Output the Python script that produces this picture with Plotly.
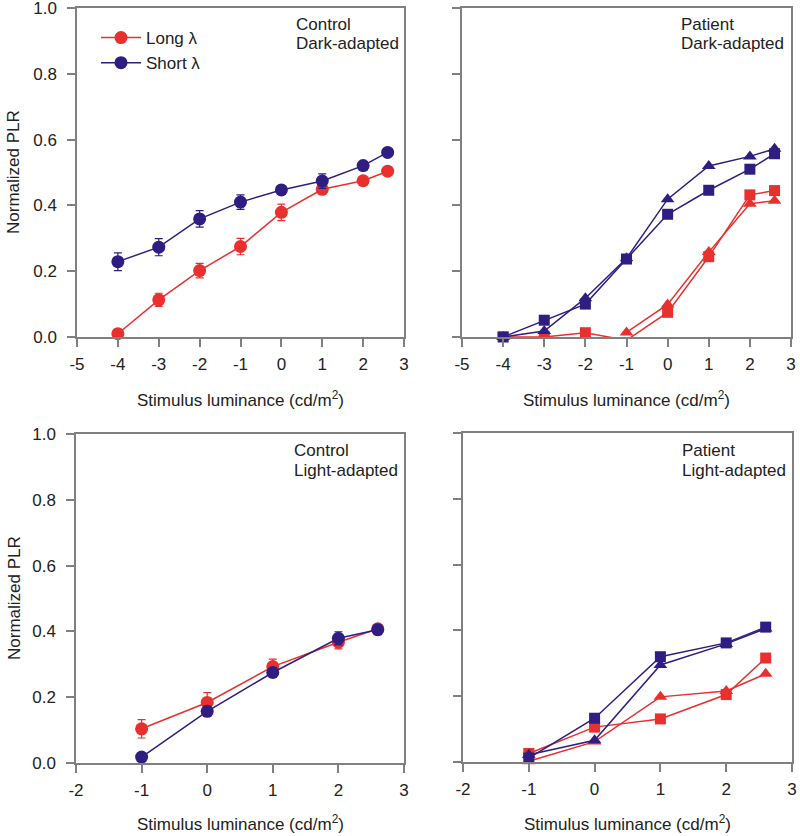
import plotly.graph_objects as go

# ---------------- data ----------------
x_dark = [-4, -3, -2, -1, 0, 1, 2, 2.6]
x_light = [-1, 0, 1, 2, 2.6]

# Control, dark-adapted (mean +/- error)
ctrl_dark_long = [0.010, 0.113, 0.202, 0.275, 0.379, 0.449, 0.475, 0.504]
ctrl_dark_long_err = [0.006, 0.020, 0.022, 0.025, 0.025, 0.015, 0.010, 0.010]
ctrl_dark_short = [0.229, 0.273, 0.359, 0.410, 0.447, 0.474, 0.521, 0.561]
ctrl_dark_short_err = [0.027, 0.026, 0.025, 0.022, 0.012, 0.022, 0.010, 0.010]

# Patient, dark-adapted
pat_dark_long_sq = [0.0, 0.0, 0.013, -0.010, 0.075, 0.244, 0.432, 0.445]
x_dark_long_tri = [-1, 0, 1, 2, 2.6]
pat_dark_long_tri = [0.014, 0.099, 0.258, 0.405, 0.414]
pat_dark_short_sq = [0.0, 0.051, 0.100, 0.237, 0.373, 0.446, 0.510, 0.557]
pat_dark_short_tri = [0.0, 0.018, 0.118, 0.239, 0.419, 0.520, 0.549, 0.572]

# Control, light-adapted
ctrl_light_long = [0.104, 0.184, 0.293, 0.367, 0.408]
ctrl_light_long_err = [0.028, 0.030, 0.023, 0.020, 0.012]
ctrl_light_short = [0.018, 0.157, 0.275, 0.379, 0.405]
ctrl_light_short_err = [0.005, 0.015, 0.015, 0.020, 0.015]

# Patient, light-adapted
pat_light_long_sq = [0.026, 0.106, 0.131, 0.205, 0.316]
pat_light_long_tri = [0.002, 0.062, 0.198, 0.216, 0.268]
pat_light_short_sq = [0.012, 0.133, 0.320, 0.362, 0.410]
pat_light_short_tri = [0.022, 0.066, 0.295, 0.359, 0.406]

x_ticks_dark = [-5, -4, -3, -2, -1, 0, 1, 2, 3]
x_ticks_light = [-2, -1, 0, 1, 2, 3]
y_ticks = [0.0, 0.2, 0.4, 0.6, 0.8, 1.0]

RED = "#E8302E"
BLUE = "#2F1D82"
AXIS = "#808080"
FONT = "Liberation Sans, Arial, sans-serif"
W, H = 800, 836

fig = go.Figure()


def add(x, y, color, symbol, size, xa, ya, name=None, err=None, legend=False, clip=False):
    kw = {}
    if err is not None:
        kw["error_y"] = dict(type="data", array=err, visible=True, color=color,
                             thickness=1.2, width=4)
    fig.add_trace(go.Scatter(
        x=x, y=y, mode="lines+markers", name=name, showlegend=legend,
        line=dict(color=color, width=1.5),
        marker=dict(color=color, symbol=symbol, size=size, line=dict(width=0)),
        xaxis=xa, yaxis=ya, cliponaxis=clip, **kw))


# top-left
add(x_dark, ctrl_dark_long, RED, "circle", 13, "x", "y", "Long λ", ctrl_dark_long_err, True)
add(x_dark, ctrl_dark_short, BLUE, "circle", 13, "x", "y", "Short λ", ctrl_dark_short_err, True)
# top-right
add(x_dark, pat_dark_long_sq, RED, "square", 11, "x2", "y2", clip=True)
add(x_dark_long_tri, pat_dark_long_tri, RED, "triangle-up", 12, "x2", "y2")
add(x_dark, pat_dark_short_sq, BLUE, "square", 11, "x2", "y2")
add(x_dark, pat_dark_short_tri, BLUE, "triangle-up", 12, "x2", "y2")
# bottom-left
add(x_light, ctrl_light_long, RED, "circle", 13, "x3", "y3", err=ctrl_light_long_err)
add(x_light, ctrl_light_short, BLUE, "circle", 13, "x3", "y3", err=ctrl_light_short_err)
# bottom-right
add(x_light, pat_light_long_sq, RED, "square", 11, "x4", "y4")
add(x_light, pat_light_long_tri, RED, "triangle-up", 12, "x4", "y4")
add(x_light, pat_light_short_sq, BLUE, "square", 11, "x4", "y4")
add(x_light, pat_light_short_tri, BLUE, "triangle-up", 12, "x4", "y4")

# panel pixel boxes (left, right, top, bottom)
boxes = {
    1: (77, 404, 8, 337),
    2: (462, 791, 8, 337),
    3: (76, 404, 434, 763),
    4: (463, 792, 433, 762),
}


def xd(l, r):
    return [l / W, r / W]


def yd(t, b):
    return [1 - b / H, 1 - t / H]


common_ax = dict(showline=True, linecolor=AXIS, linewidth=1.5, mirror=True,
                 ticks="outside", ticklen=8, tickwidth=1.5, tickcolor=AXIS,
                 showgrid=False, zeroline=False, automargin=False,
                 ticklabeloverflow="allow",
                 tickfont=dict(family=FONT, size=17, color="#222222"))

layout = {}
for i, (l, r, t, b) in boxes.items():
    sfx = "" if i == 1 else str(i)
    xr = [-5, 3] if i in (1, 2) else [-2, 3]
    xt = x_ticks_dark if i in (1, 2) else x_ticks_light
    layout["xaxis" + sfx] = dict(domain=xd(l, r), range=xr, tickvals=xt,
                                 ticktext=[str(v) for v in xt], anchor="y" + sfx,
                                 ticklabelstandoff=3, **common_ax)
    layout["yaxis" + sfx] = dict(domain=yd(t, b), range=[0, 1], tickvals=y_ticks,
                                 ticktext=[f"{v:.1f}" for v in y_ticks],
                                 showticklabels=(i in (1, 3)), anchor="x" + sfx,
                                 ticklabelstandoff=7, **common_ax)

ann = []


def text(x, y, s, angle=0, xanchor="left"):
    ann.append(dict(x=x / W, y=1 - y / H, xref="paper", yref="paper", text=s,
                    showarrow=False, xanchor=xanchor, yanchor="middle",
                    textangle=angle, font=dict(family=FONT, size=17, color="#222222")))


xt_title = "Stimulus luminance (cd/m<sup>2</sup>)"
text(240, 399, xt_title, xanchor="center")
text(626, 399, xt_title, xanchor="center")
text(240, 823, xt_title, xanchor="center")
text(627, 823, xt_title, xanchor="center")
text(14, 172, "Normalized PLR", angle=-90, xanchor="center")
text(14, 598, "Normalized PLR", angle=-90, xanchor="center")

text(294, 24, "Control")
text(294, 44, "Dark-adapted")
text(679, 24, "Patient")
text(679, 44, "Dark-adapted")
text(292, 450, "Control")
text(292, 470, "Light-adapted")
text(680, 450, "Patient")
text(680, 470, "Light-adapted")

fig.update_layout(
    template="none",
    width=W, height=H, autosize=False,
    margin=dict(l=0, r=0, t=0, b=0, pad=0),
    paper_bgcolor="white", plot_bgcolor="white",
    showlegend=True,
    legend=dict(x=96 / W, y=1 - 20 / H, xanchor="left", yanchor="top",
                bgcolor="rgba(0,0,0,0)", borderwidth=0,
                font=dict(family=FONT, size=17, color="#222222"),
                tracegroupgap=0, itemwidth=40),
    annotations=ann,
    **layout,
)

fig.write_html("out.html", config={"displayModeBar": False},
               post_script="document.body.style.margin='0';document.body.style.overflow='hidden';")
